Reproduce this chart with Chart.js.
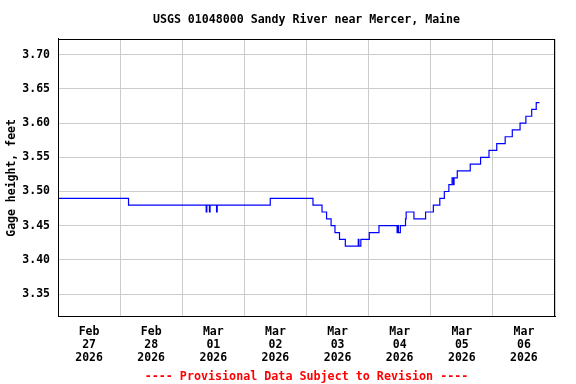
<!DOCTYPE html>
<html>
<head>
<meta charset="utf-8">
<script src="https://cdn.jsdelivr.net/npm/chart.js@4/dist/chart.umd.min.js"></script>
<style>
  html, body { margin: 0; padding: 0; background: #ffffff; }
  canvas { display: block; }
</style>
</head>
<body>
<canvas id="c" width="576" height="384"></canvas>
<script>
// ---- data (change points of a 15-minute gage record) ----
const times = [
  '2026-02-27T00:00', '2026-02-28T03:15',
  '2026-03-01T09:15', '2026-03-01T09:30', '2026-03-01T10:30', '2026-03-01T10:45',
  '2026-03-01T13:15', '2026-03-01T13:30',
  '2026-03-02T10:00',
  '2026-03-03T02:30', '2026-03-03T06:00', '2026-03-03T07:45', '2026-03-03T09:30',
  '2026-03-03T11:00', '2026-03-03T12:45', '2026-03-03T15:00', '2026-03-03T20:00',
  '2026-03-03T20:15', '2026-03-03T21:00',
  '2026-03-04T00:15', '2026-03-04T04:00', '2026-03-04T11:00', '2026-03-04T11:15',
  '2026-03-04T11:30', '2026-03-04T12:15', '2026-03-04T14:15', '2026-03-04T14:30',
  '2026-03-04T17:30', '2026-03-04T22:00',
  '2026-03-05T01:00', '2026-03-05T03:30', '2026-03-05T05:15', '2026-03-05T07:00',
  '2026-03-05T08:15', '2026-03-05T08:45', '2026-03-05T09:00', '2026-03-05T10:15',
  '2026-03-05T15:15', '2026-03-05T19:15', '2026-03-05T22:30',
  '2026-03-06T01:30', '2026-03-06T04:45', '2026-03-06T07:30', '2026-03-06T10:30',
  '2026-03-06T12:45', '2026-03-06T15:00', '2026-03-06T16:45', '2026-03-06T18:00'
];
const gageHeight = [
  3.49, 3.48,
  3.47, 3.48, 3.47, 3.48,
  3.47, 3.48,
  3.49,
  3.48, 3.47, 3.46, 3.45,
  3.44, 3.43, 3.42, 3.43,
  3.42, 3.43,
  3.44, 3.45, 3.44, 3.45,
  3.44, 3.45, 3.46, 3.47,
  3.46, 3.47,
  3.48, 3.49, 3.50, 3.51,
  3.52, 3.51, 3.52, 3.53,
  3.54, 3.55, 3.56,
  3.57, 3.58, 3.59, 3.60,
  3.61, 3.62, 3.63, 3.63
];
const dayMonths = ['Feb', 'Feb', 'Mar', 'Mar', 'Mar', 'Mar', 'Mar', 'Mar'];
const dayNumbers = ['27', '28', '01', '02', '03', '04', '05', '06'];
const dayYears = ['2026', '2026', '2026', '2026', '2026', '2026', '2026', '2026'];
const yTicks = [3.35, 3.40, 3.45, 3.50, 3.55, 3.60, 3.65, 3.70];
const yMin = 3.3166, yMax = 3.723;
const startTime = '2026-02-27T00:00';
const chartTitle = 'USGS 01048000 Sandy River near Mercer, Maine';
const yTitle = 'Gage height, feet';
const footerText = '---- Provisional Data Subject to Revision ----';

// ---- build ----
const toHours = s => (Date.parse(s + ':00Z') - Date.parse(startTime + ':00Z')) / 3600000;
const points = times.map((t, i) => ({ x: toHours(t), y: gageHeight[i] }));
const nDays = dayNumbers.length;
const FONT = "'DejaVu Sans Mono', monospace";

const frame = {
  id: 'frame',
  afterDraw(chart) {
    const a = chart.chartArea, ctx = chart.ctx;
    ctx.save();
    ctx.strokeStyle = '#000000';
    ctx.lineWidth = 1;
    ctx.strokeRect(Math.round(a.left) + 0.5, Math.round(a.top) + 0.5,
                   Math.round(a.right - a.left) - 1, Math.round(a.bottom - a.top) - 1);
    ctx.restore();
  }
};

new Chart(document.getElementById('c'), {
  type: 'line',
  data: {
    datasets: [{
      data: points,
      stepped: true,
      borderColor: '#0000ff',
      borderWidth: 1.2,
      pointRadius: 0,
      fill: false
    }]
  },
  options: {
    responsive: false,
    animation: false,
    devicePixelRatio: 1,
    layout: { padding: { left: 0, right: 21, top: 0, bottom: 0 } },
    plugins: {
      legend: { display: false },
      tooltip: { enabled: false },
      title: {
        display: true, text: chartTitle, fullSize: false, color: '#000000',
        font: { family: FONT, size: 11.6, weight: 'bold', lineHeight: 1.2 },
        padding: { top: 13, bottom: 12 }
      },
      subtitle: {
        display: true, text: footerText, position: 'bottom', fullSize: false, color: '#ff0000',
        font: { family: FONT, size: 11.7, weight: 'bold', lineHeight: 1.2 },
        padding: { top: 0, bottom: 0 }
      }
    },
    scales: {
      x: {
        type: 'linear', min: 0, max: nDays * 24,
        afterBuildTicks: s => {
          const t = [];
          for (let h = 0; h <= nDays * 24; h += 12) t.push({ value: h });
          s.ticks = t;
        },
        afterFit: s => { s.height = 53; },
        grid: {
          drawTicks: false,
          color: c => (c.tick && c.tick.value % 24 === 0) ? '#cccccc' : 'rgba(0,0,0,0)',
          lineWidth: 1
        },
        border: { display: true, color: '#000000' },
        ticks: {
          autoSkip: false, maxRotation: 0, minRotation: 0, padding: 8, color: '#000000',
          font: { family: FONT, size: 11.5, weight: 'bold', lineHeight: 1.16 },
          callback: v => {
            if (v % 24 !== 12) return '';
            const d = (v - 12) / 24;
            return [dayMonths[d], dayNumbers[d], dayYears[d]];
          }
        }
      },
      y: {
        type: 'linear', min: yMin, max: yMax,
        afterBuildTicks: s => { s.ticks = yTicks.map(v => ({ value: v })); },
        afterFit: s => { s.width = 58; },
        grid: { drawTicks: false, color: '#cccccc', lineWidth: 1 },
        border: { display: true, color: '#000000' },
        ticks: {
          padding: 8, color: '#000000',
          font: { family: FONT, size: 11.5, weight: 'bold' },
          callback: v => Number(v).toFixed(2)
        },
        title: {
          display: true, text: yTitle, color: '#000000',
          font: { family: FONT, size: 11.5, weight: 'bold', lineHeight: 1.2 },
          padding: { top: 5, bottom: 0 }
        }
      }
    }
  },
  plugins: [frame]
});
</script>
</body>
</html>
